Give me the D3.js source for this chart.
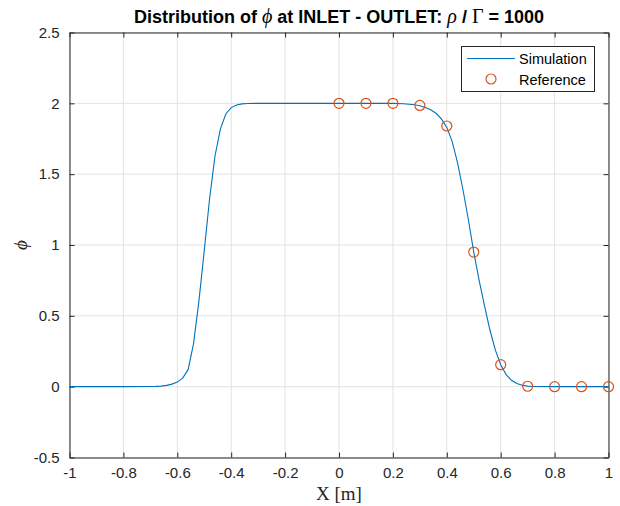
<!DOCTYPE html>
<html><head><meta charset="utf-8">
<script src="https://cdn.jsdelivr.net/npm/d3@7"></script>
<style>body{margin:0;background:#fff}svg{display:block}</style>
</head><body>
<script>
// Simulation curve
const simX = [-1.0,-0.9,-0.8,-0.7,-0.68,-0.66,-0.64,-0.62,-0.60,-0.58,-0.56,-0.54,-0.52,-0.50,-0.48,-0.46,-0.44,-0.42,-0.40,-0.38,-0.36,-0.34,-0.30,-0.2,-0.1,0.0,0.1,0.2,0.24,0.28,0.30,0.32,0.34,0.36,0.38,0.40,0.42,0.44,0.46,0.48,0.50,0.52,0.54,0.56,0.58,0.60,0.62,0.64,0.66,0.68,0.70,0.72,0.8,0.9,1.0];
const simY = [0,0,0,0.001,0.002,0.004,0.009,0.018,0.032,0.06,0.12,0.30,0.60,0.96,1.33,1.63,1.82,1.925,1.97,1.988,1.996,1.999,2,2,2,2,2,2,1.997,1.99,1.983,1.97,1.955,1.93,1.89,1.83,1.73,1.58,1.39,1.18,0.95,0.75,0.57,0.40,0.26,0.155,0.085,0.045,0.022,0.01,0.004,0.001,0,0,0];
// Reference points
const refX = [0,0.1,0.2,0.3,0.4,0.5,0.6,0.7,0.8,0.9,1.0];
const refY = [2,2,2,1.985,1.84,0.95,0.155,0.003,0,0,0];
const xTicks = [-1,-0.8,-0.6,-0.4,-0.2,0,0.2,0.4,0.6,0.8,1];
const yTicks = [-0.5,0,0.5,1,1.5,2,2.5];
const xTickLabels = ["-1","-0.8","-0.6","-0.4","-0.2","0","0.2","0.4","0.6","0.8","1"];
const yTickLabels = ["-0.5","0","0.5","1","1.5","2","2.5"];

const W=620,H=506, L=69.5,R=608.5,T=32.5,B=457.5;
const ax="#262626";
const svg=d3.select("body").append("svg").attr("width",W).attr("height",H);
const x=d3.scaleLinear().domain([-1,1]).range([L,R]);
const y=d3.scaleLinear().domain([-0.5,2.5]).range([B,T]);

// grid
const g=svg.append("g");
g.selectAll("line.gx").data(xTicks).join("line").attr("x1",d=>x(d)).attr("x2",d=>x(d)).attr("y1",T).attr("y2",B).attr("stroke","#e3e3e3").attr("stroke-width",1);
g.selectAll("line.gy").data(yTicks).join("line").attr("y1",d=>y(d)).attr("y2",d=>y(d)).attr("x1",L).attr("x2",R).attr("stroke","#e3e3e3").attr("stroke-width",1);

// axes
const font="'Liberation Sans', Arial, sans-serif";
const xa=svg.append("g").attr("transform",`translate(0,${B})`).call(d3.axisBottom(x).tickValues(xTicks).tickFormat((d,i)=>xTickLabels[i]).tickSizeInner(-5).tickSizeOuter(0).tickPadding(10));
const xt=svg.append("g").attr("transform",`translate(0,${T})`).call(d3.axisTop(x).tickValues(xTicks).tickFormat("").tickSizeInner(-5).tickSizeOuter(0));
const ya=svg.append("g").attr("transform",`translate(${L},0)`).call(d3.axisLeft(y).tickValues(yTicks).tickFormat((d,i)=>yTickLabels[i]).tickSizeInner(-5).tickSizeOuter(0).tickPadding(10));
const yr=svg.append("g").attr("transform",`translate(${R},0)`).call(d3.axisRight(y).tickValues(yTicks).tickFormat("").tickSizeInner(-5).tickSizeOuter(0));
[xa,xt,ya,yr].forEach(a=>{a.selectAll("path").attr("stroke",ax);a.selectAll("line").attr("stroke",ax);a.selectAll("text").attr("fill",ax).style("font-family",font).style("font-size","15px");});

// data
const line=d3.line().x((d,i)=>x(simX[i])).y((d,i)=>y(simY[i]));
svg.append("path").datum(simY).attr("d",line).attr("fill","none").attr("stroke","#0072BD").attr("stroke-width",1.1);
svg.selectAll("circle.ref").data(refX).join("circle").attr("cx",d=>x(d)).attr("cy",(d,i)=>y(refY[i])).attr("r",5).attr("fill","none").attr("stroke","#D95319").attr("stroke-width",1.2);

// title
const title=svg.append("text").attr("x",(L+R)/2).attr("y",23).attr("text-anchor","middle").attr("fill","#000").style("font-family",font).style("font-size","18px").style("font-weight","bold");
title.append("tspan").text("Distribution of ");
title.append("tspan").text("ϕ").style("font-family","'Liberation Serif',serif").style("font-style","italic").style("font-weight","normal").style("font-size","20px");
title.append("tspan").text(" at INLET - OUTLET: ");
title.append("tspan").text("ρ").style("font-family","'Liberation Serif',serif").style("font-style","italic").style("font-weight","normal").style("font-size","20px");
title.append("tspan").text(" / ");
title.append("tspan").text("Γ").style("font-family","'Liberation Serif',serif").style("font-weight","normal").style("font-size","20px");
title.append("tspan").text(" = 1000");

// axis labels
svg.append("text").attr("x",(L+R)/2).attr("y",500).attr("text-anchor","middle").attr("fill",ax).style("font-family","'Liberation Serif',serif").style("font-size","19px").text("X [m]");
svg.append("text").attr("transform",`translate(27,${(T+B)/2}) rotate(-90)`).attr("text-anchor","middle").attr("fill",ax).style("font-family","'Liberation Serif',serif").style("font-style","italic").style("font-size","19px").text("ϕ");

// legend
const lg=svg.append("g");
lg.append("rect").attr("x",461.5).attr("y",46.5).attr("width",133).attr("height",45).attr("fill","#fff").attr("stroke",ax).attr("stroke-width",1);
lg.append("line").attr("x1",467).attr("x2",515).attr("y1",58.5).attr("y2",58.5).attr("stroke","#0072BD").attr("stroke-width",1.1);
lg.append("circle").attr("cx",491).attr("cy",79).attr("r",5).attr("fill","none").attr("stroke","#D95319").attr("stroke-width",1.2);
lg.append("text").attr("x",519).attr("y",64).attr("fill","#000").style("font-family",font).style("font-size","14.5px").text("Simulation");
lg.append("text").attr("x",519).attr("y",84.5).attr("fill","#000").style("font-family",font).style("font-size","14.5px").text("Reference");
</script>
</body></html>
